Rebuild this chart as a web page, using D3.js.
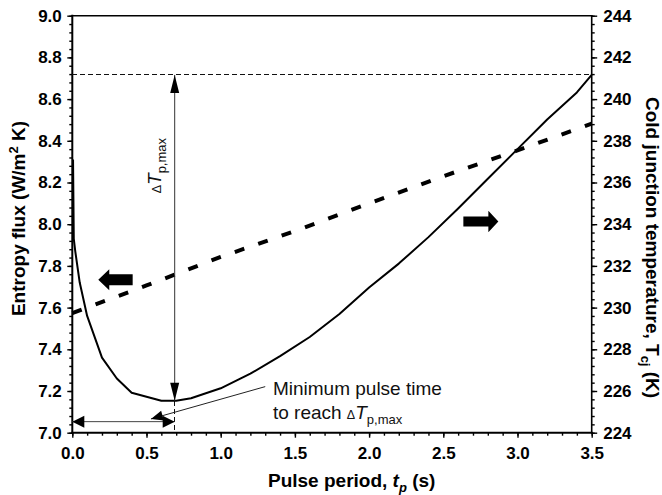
<!DOCTYPE html>
<html>
<head>
<meta charset="utf-8">
<script src="https://cdn.jsdelivr.net/npm/d3@7"></script>
<style>
  body { margin: 0; background: #fff; }
  svg { display: block; font-family: "Liberation Sans", Arial, Helvetica, sans-serif; }
</style>
</head>
<body>
<div id="root"></div>
<script>
// pulse period (s) and cold junction temperature (K), right axis
const periods = [0.005, 0.01, 0.02, 0.05, 0.1, 0.2, 0.3, 0.4, 0.6, 0.7, 0.8, 1.0, 1.2, 1.4, 1.6, 1.8, 2.0, 2.2, 2.4, 2.6, 2.8, 3.0, 3.2, 3.4, 3.5];
const coldTemp = [237.1, 233.3, 232.7, 231.2, 229.6, 227.6, 226.6, 225.92, 225.53, 225.53, 225.65, 226.13, 226.83, 227.67, 228.59, 229.69, 230.96, 232.11, 233.38, 234.75, 236.18, 237.6, 239.02, 240.32, 241.16];

// entropy flux (W/m2 K), left axis
const fluxPeriods = [0, 0.5, 1.0, 1.5, 2.0, 2.5, 3.0, 3.5];
const entropyFlux = [7.574, 7.706, 7.843, 7.967, 8.1, 8.23, 8.354, 8.482];

// ticks
const xTicks = [0, 0.5, 1.0, 1.5, 2.0, 2.5, 3.0, 3.5];
const leftTicks = [7.0, 7.2, 7.4, 7.6, 7.8, 8.0, 8.2, 8.4, 8.6, 8.8, 9.0];
const rightTicks = [224, 226, 228, 230, 232, 234, 236, 238, 240, 242, 244];

// annotation anchors
const minPulseTime = 0.69;
const bottomArrowFlux = 7.053;
const pointerFrom = [1.3, 7.221];
const pointerTo = [0.53, 7.066];
const leftArrowTip = [0.175, 7.734];
const rightArrowTip = [2.871, 234.13];

const W = 662, H = 495;
const margin = { top: 15.7, right: 70.3, bottom: 62.3, left: 72.3 };
const width = W - margin.left - margin.right;
const height = H - margin.top - margin.bottom;

const x = d3.scaleLinear().domain([0, 3.5]).range([0, width]);
const yL = d3.scaleLinear().domain([7, 9]).range([height, 0]);
const yR = d3.scaleLinear().domain([224, 244]).range([height, 0]);

const svg = d3.select("#root").append("svg")
  .attr("width", W).attr("height", H)
  .append("g")
  .attr("transform", `translate(${margin.left},${margin.top})`);

function styleAxis(g) {
  g.select(".domain").remove();
  g.selectAll(".tick line").attr("stroke", "#000").attr("stroke-width", 1.4);
  g.selectAll(".tick text")
    .attr("fill", "#000")
    .attr("font-size", 17)
    .attr("font-weight", "bold")
    .attr("font-family", "Liberation Sans, Arial, sans-serif");
}

const minor = (a, b, step) => d3.range(Math.round((b - a) / step) + 1).map((i) => a + i * step);

// minor ticks
svg.append("g").call(d3.axisLeft(yL).tickValues(minor(7, 9, 0.04)).tickSize(3).tickFormat("")).call(styleAxis);
svg.append("g").attr("transform", `translate(${width},0)`)
  .call(d3.axisRight(yR).tickValues(minor(224, 244, 0.4)).tickSize(3).tickFormat("")).call(styleAxis);
svg.append("g").attr("transform", `translate(0,${height})`)
  .call(d3.axisBottom(x).tickValues(minor(0, 3.5, 0.1)).tickSize(3).tickFormat("")).call(styleAxis);

// major ticks
svg.append("g")
  .call(d3.axisLeft(yL).tickValues(leftTicks).tickSize(5).tickPadding(5.5).tickFormat(d3.format(".1f")))
  .call(styleAxis);
svg.append("g").attr("transform", `translate(${width},0)`)
  .call(d3.axisRight(yR).tickValues(rightTicks).tickSize(5.5).tickPadding(6).tickFormat(d3.format("d")))
  .call(styleAxis);
svg.append("g").attr("transform", `translate(0,${height})`)
  .call(d3.axisBottom(x).tickValues(xTicks).tickSize(5).tickPadding(9).tickFormat(d3.format(".1f")))
  .call(styleAxis);

// frame
const frame = [
  [0, 0, 0, height, 2],
  [0, height, width, height, 2],
  [width, 0, width, height, 1.6],
  [0, 0, width, 0, 1.5],
];
svg.append("g").selectAll("line").data(frame).enter().append("line")
  .attr("x1", (d) => d[0]).attr("y1", (d) => d[1])
  .attr("x2", (d) => d[2]).attr("y2", (d) => d[3])
  .attr("stroke", "#000").attr("stroke-width", (d) => d[4])
  .attr("stroke-linecap", "square");

// reference dashed lines
const tMax = coldTemp[coldTemp.length - 1];
const tMin = d3.min(coldTemp);
svg.append("line")
  .attr("x1", 0).attr("x2", width)
  .attr("y1", yR(tMax)).attr("y2", yR(tMax))
  .attr("stroke", "#111").attr("stroke-width", 1).attr("stroke-dasharray", "5,3")
  .attr("shape-rendering", "crispEdges");
svg.append("line")
  .attr("x1", x(minPulseTime)).attr("x2", x(minPulseTime))
  .attr("y1", yR(tMin)).attr("y2", height)
  .attr("stroke", "#111").attr("stroke-width", 1).attr("stroke-dasharray", "5,3")
  .attr("shape-rendering", "crispEdges");

// series
const tempLine = d3.line().x((d, i) => x(periods[i])).y((d) => yR(d));
svg.append("path").datum(coldTemp)
  .attr("d", tempLine)
  .attr("fill", "none").attr("stroke", "#000").attr("stroke-width", 2)
  .attr("stroke-linejoin", "round");

const fluxLine = d3.line().x((d, i) => x(fluxPeriods[i])).y((d) => yL(d));
svg.append("path").datum(entropyFlux)
  .attr("d", fluxLine)
  .attr("fill", "none").attr("stroke", "#000").attr("stroke-width", 4)
  .attr("stroke-dasharray", "10,14.8");

// arrow helpers
function head(tip, from, len, w) {
  const dx = tip[0] - from[0], dy = tip[1] - from[1];
  const d = Math.hypot(dx, dy);
  const ux = dx / d, uy = dy / d;
  const bx = tip[0] - ux * len, by = tip[1] - uy * len;
  const px = -uy * w / 2, py = ux * w / 2;
  svg.append("polygon")
    .attr("points", [[tip[0], tip[1]], [bx + px, by + py], [bx - px, by - py]].map((p) => p.join(",")).join(" "))
    .attr("fill", "#000");
}

function doubleArrow(a, b, len, w, color) {
  svg.append("line")
    .attr("x1", a[0]).attr("y1", a[1]).attr("x2", b[0]).attr("y2", b[1])
    .attr("stroke", color).attr("stroke-width", 1);
  head(a, b, len, w);
  head(b, a, len, w);
}

function blockArrow(tip, dir, L, hl, sh, hh) {
  const [tx, ty] = tip;
  const pts = [
    [tx, ty],
    [tx - dir * hl, ty - hh],
    [tx - dir * hl, ty - sh],
    [tx - dir * L, ty - sh],
    [tx - dir * L, ty + sh],
    [tx - dir * hl, ty + sh],
    [tx - dir * hl, ty + hh],
  ];
  svg.append("polygon").attr("points", pts.map((p) => p.join(",")).join(" ")).attr("fill", "#000");
}

// delta T arrow
doubleArrow([x(minPulseTime), yR(tMax)], [x(minPulseTime), yR(tMin)], 18, 9, "#333");
// minimum pulse time arrow
doubleArrow([x(0), yL(bottomArrowFlux)], [x(minPulseTime), yL(bottomArrowFlux)], 12, 12, "#444");
// pointer from label
const pf = [x(pointerFrom[0]), yL(pointerFrom[1])];
const pt = [x(pointerTo[0]), yL(pointerTo[1])];
svg.append("line").attr("x1", pf[0]).attr("y1", pf[1]).attr("x2", pt[0]).attr("y2", pt[1])
  .attr("stroke", "#222").attr("stroke-width", 1);
head(pt, pf, 12, 10);

// axis direction arrows
blockArrow([x(leftArrowTip[0]), yL(leftArrowTip[1])], -1, 34.4, 11, 5.5, 10.5);
blockArrow([x(rightArrowTip[0]), yR(rightArrowTip[1])], 1, 35, 10, 5, 10.8);

// annotation texts
const dLabel = svg.append("text")
  .attr("transform", `translate(${x(0.596)},${yL(8.148)}) rotate(-90)`)
  .attr("font-size", 19).attr("fill", "#111");
dLabel.append("tspan").attr("font-size", 12.5).text("\u0394");
dLabel.append("tspan").attr("font-style", "italic").text("T");
dLabel.append("tspan").attr("font-size", 13).attr("dy", 5).text("p,max");

const note = svg.append("text")
  .attr("x", x(1.352)).attr("y", yL(7.181))
  .attr("font-size", 19).attr("fill", "#111");
note.append("tspan").text("Minimum pulse time");
note.append("tspan").attr("x", x(1.352)).attr("dy", 24.3).text("to reach ");
note.append("tspan").attr("font-size", 12.5).text("\u0394");
note.append("tspan").attr("font-style", "italic").text("T");
note.append("tspan").attr("font-size", 13).attr("dy", 5).text("p,max");

// axis titles
const xTitle = svg.append("text")
  .attr("x", 268 - margin.left).attr("y", height + 54.5)
  .attr("font-size", 19).attr("font-weight", "bold");
xTitle.append("tspan").text("Pulse period, ");
xTitle.append("tspan").attr("font-style", "italic").text("t");
xTitle.append("tspan").attr("font-style", "italic").attr("font-size", 13).attr("dy", 5).text("p");
xTitle.append("tspan").attr("dy", -5).text(" (s)");

const yTitle = svg.append("text")
  .attr("transform", `translate(${24.5 - margin.left},${218.5 - margin.top}) rotate(-90)`)
  .attr("text-anchor", "middle")
  .attr("font-size", 19).attr("font-weight", "bold");
yTitle.append("tspan").text("Entropy flux (W/m");
yTitle.append("tspan").attr("font-size", 13).attr("dy", -7).text("2");
yTitle.append("tspan").attr("dy", 7).text(" K)");

const rTitle = svg.append("text")
  .attr("transform", `translate(${646 - margin.left},${97 - margin.top}) rotate(90)`)
  .attr("font-size", 19).attr("font-weight", "bold");
rTitle.append("tspan").text("Cold junction temperature, T");
rTitle.append("tspan").attr("font-size", 13).attr("dy", 5).text("cj");
rTitle.append("tspan").attr("dy", -5).text(" (K)");
</script>
</body>
</html>
